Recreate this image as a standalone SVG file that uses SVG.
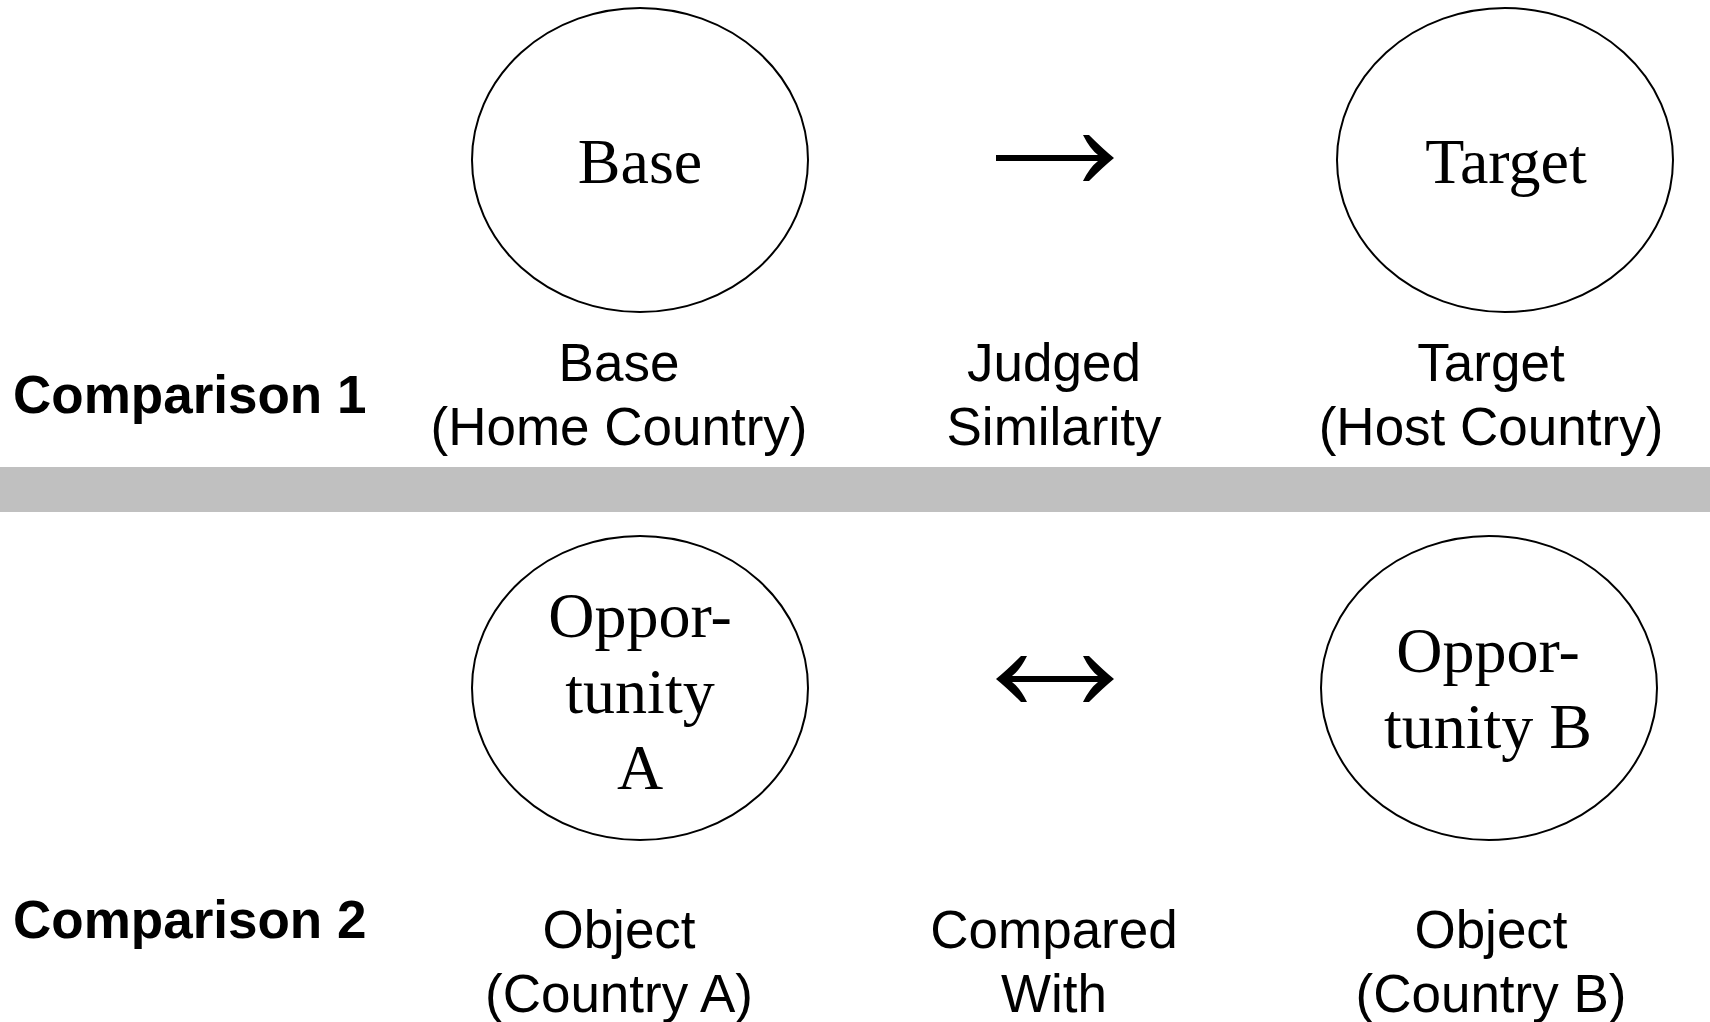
<svg xmlns="http://www.w3.org/2000/svg" xmlns:xlink="http://www.w3.org/1999/xlink" width="1710" height="1022" viewBox="0 0 1710 1022">
  <style>
    .node { fill: #ffffff; stroke: #000000; stroke-width: 2; }
    .serif { font-family: "Liberation Serif", "Times New Roman", serif; font-size: 64px; text-anchor: middle; fill: #000; }
    .lab { font-family: "Liberation Sans", Arial, sans-serif; font-size: 53px; text-anchor: middle; fill: #000; }
    .cmp { font-family: "Liberation Sans", Arial, sans-serif; font-size: 53px; font-weight: bold; fill: #000; }
    .shaft { stroke: #000; stroke-width: 6; fill: none; }
    .head { fill: #000; stroke: none; }
  </style>
  <defs>
    <path id="arrowhead" class="head" d="M0,0 Q-11,-9 -25,-23 L-31,-23 Q-24,-9 -16,-3 L-16,3 Q-24,9 -31,23 L-25,23 Q-11,9 0,0 Z"/>
  </defs>
  <rect x="0" y="0" width="1710" height="1022" fill="#ffffff"/>

  <!-- separator band -->
  <rect id="separator" x="0" y="467" width="1710" height="45" fill="#c0c0c0"/>

  <!-- row labels -->
  <g id="row-labels">
    <text class="cmp" x="13" y="413">Comparison 1</text>
    <text class="cmp" x="13" y="938">Comparison 2</text>
  </g>

  <!-- Comparison 1 -->
  <g id="node-base">
    <ellipse class="node" cx="640" cy="160" rx="168" ry="152"/>
    <text class="serif" x="640" y="183">Base</text>
    <text class="lab" x="619" y="381">Base</text>
    <text class="lab" x="619" y="445">(Home Country)</text>
  </g>
  <g id="node-target">
    <ellipse class="node" cx="1505" cy="160" rx="168" ry="152"/>
    <text class="serif" x="1506" y="183">Target</text>
    <text class="lab" x="1491" y="381">Target</text>
    <text class="lab" x="1491" y="445">(Host Country)</text>
  </g>

  <!-- Comparison 2 -->
  <g id="node-opportunity-a">
    <ellipse class="node" cx="640" cy="688" rx="168" ry="152"/>
    <text class="serif" x="640" y="637">Oppor-</text>
    <text class="serif" x="640" y="713">tunity</text>
    <text class="serif" x="640" y="789">A</text>
    <text class="lab" x="619" y="948">Object</text>
    <text class="lab" x="619" y="1012">(Country A)</text>
  </g>
  <g id="node-opportunity-b">
    <ellipse class="node" cx="1489" cy="688" rx="168" ry="152"/>
    <text class="serif" x="1488" y="672">Oppor-</text>
    <text class="serif" x="1488" y="748">tunity B</text>
    <text class="lab" x="1491" y="948">Object</text>
    <text class="lab" x="1491" y="1012">(Country B)</text>
  </g>

  <!-- connectors -->
  <g id="connectors">
    <g id="edge-judged">
      <line class="shaft" x1="996" y1="158" x2="1100" y2="158"/>
      <use xlink:href="#arrowhead" href="#arrowhead" transform="translate(1114,158)"/>
      <text class="lab" x="1054" y="381">Judged</text>
      <text class="lab" x="1054" y="445">Similarity</text>
    </g>
    <g id="edge-compared">
      <line class="shaft" x1="1010" y1="679" x2="1100" y2="679"/>
      <use xlink:href="#arrowhead" href="#arrowhead" transform="translate(1114,679)"/>
      <use xlink:href="#arrowhead" href="#arrowhead" transform="translate(996,679) rotate(180)"/>
      <text class="lab" x="1054" y="948">Compared</text>
      <text class="lab" x="1054" y="1012">With</text>
    </g>
  </g>
</svg>
